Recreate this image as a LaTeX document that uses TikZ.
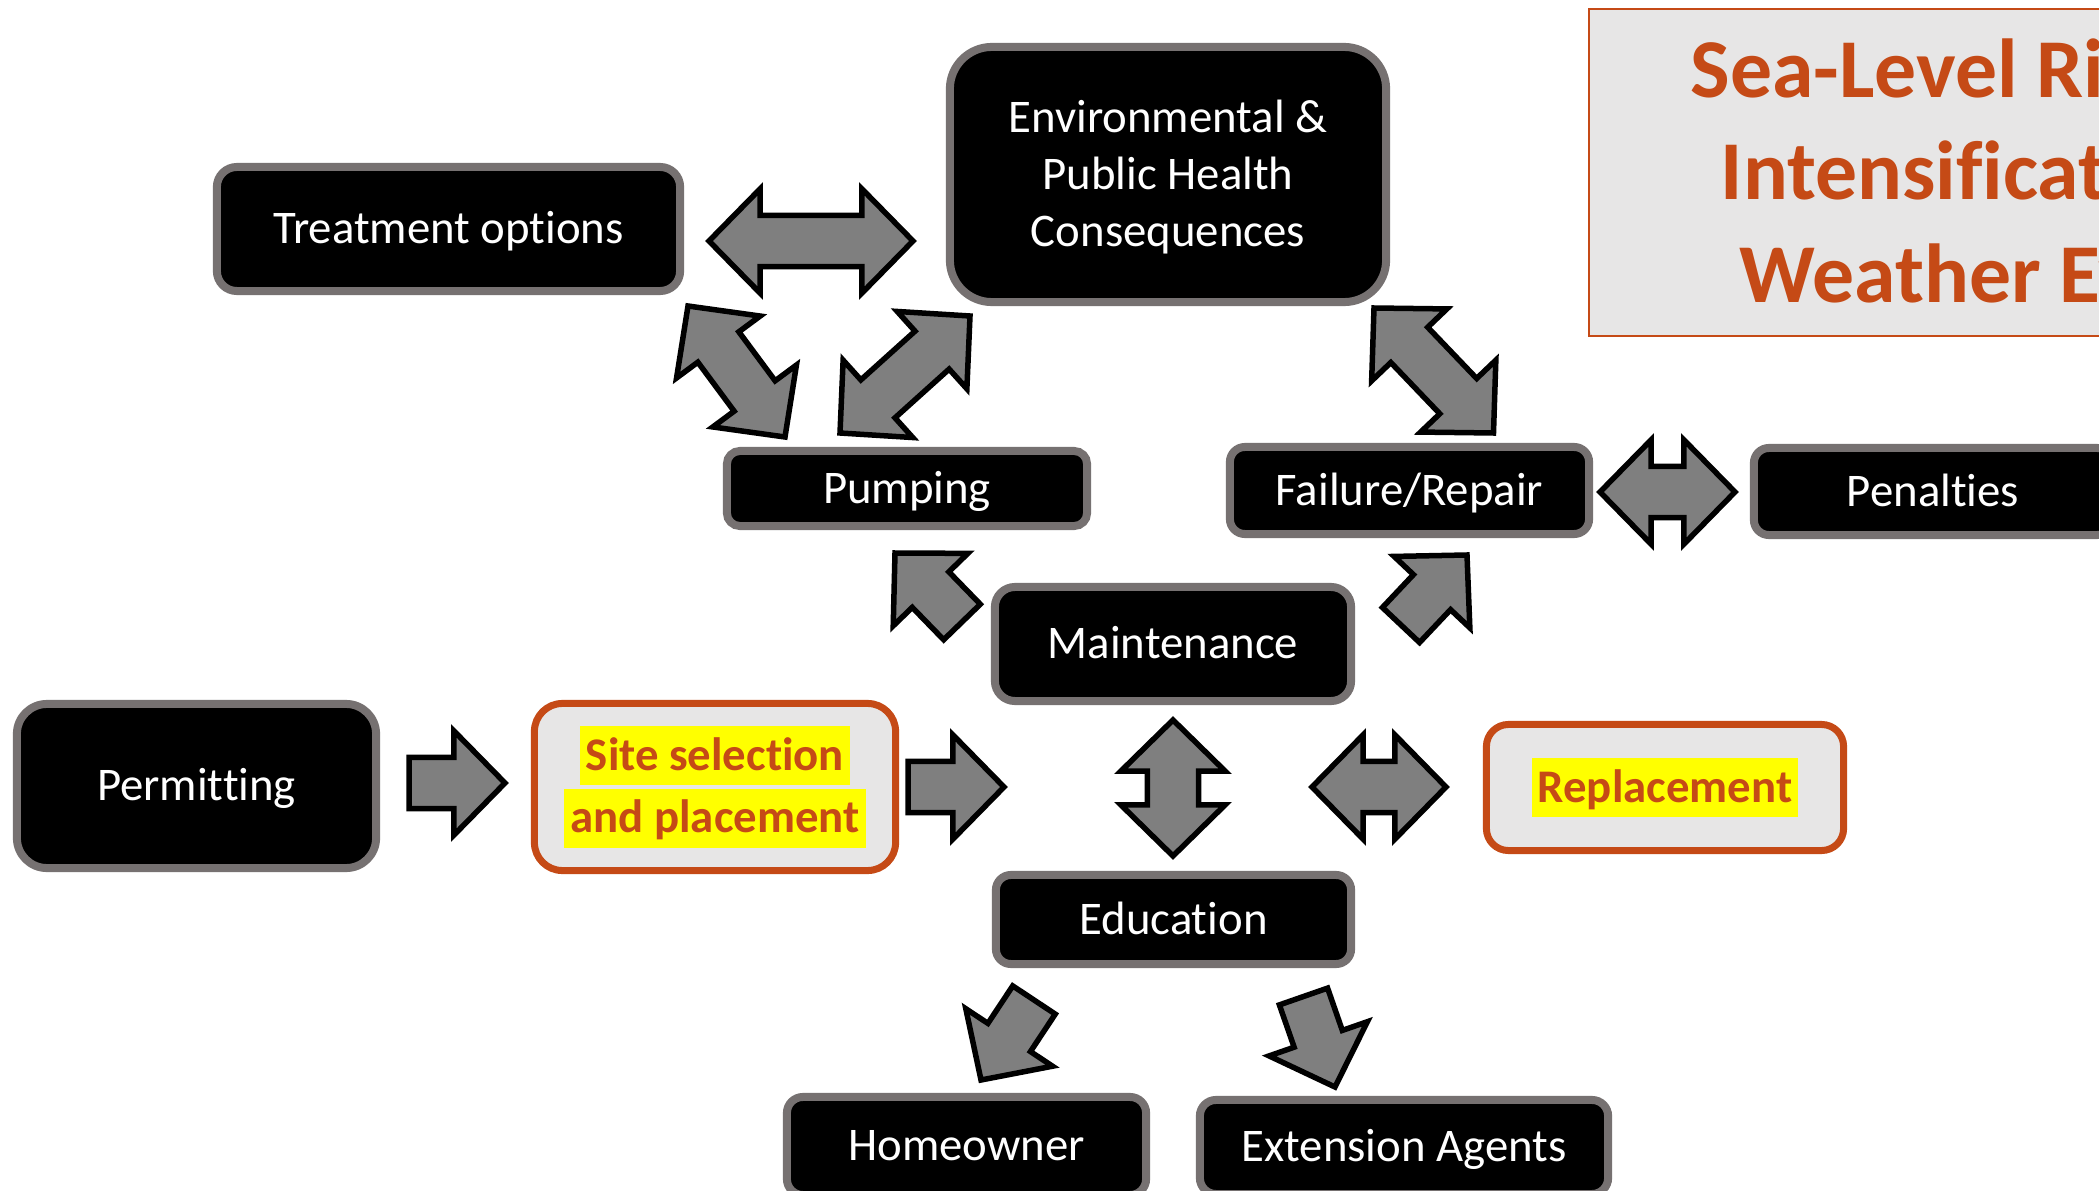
\documentclass[tikz,border=0pt]{standalone}
\usepackage{fontspec}
\setmainfont{Carlito}[RawFeature={-liga;-clig;-calt;-dlig}]
\usetikzlibrary{calc}
\definecolor{boxgrey}{RGB}{118,113,113}
\definecolor{arrgrey}{RGB}{127,127,127}
\definecolor{rust}{RGB}{197,74,22}
\definecolor{lightgrey}{RGB}{231,230,230}
\definecolor{hlyellow}{RGB}{255,255,0}
\newcommand{\bodyfont}{\fontsize{13.3}{16.2}\selectfont}
\newcommand{\hlfont}{\fontsize{13.3}{16.73}\selectfont\bfseries}
\newcommand{\ttlfont}{\fontsize{23.8}{29.2}\selectfont\bfseries}
\newcommand{\hlt}[1]{{\setlength{\fboxsep}{0pt}\colorbox{hlyellow}{\kern0.06cm\rule[-0.15cm]{0pt}{0.59cm}#1\kern0.06cm}}}
\newcommand{\arrHL}{0.51cm}
\newcommand{\arrHW}{0.52cm}
\newcommand{\arrSW}{0.255cm}
\newcommand{\singlearrow}[2]{%
  \coordinate (tmpc) at ($(#2)!\arrHL!(#1)$);
  \draw[blockarrow] ($(#1)!\arrSW!90:(#2)$) -- ($(tmpc)!\arrSW!-90:(#1)$) -- ($(tmpc)!\arrHW!-90:(#1)$) -- (#2)
    -- ($(tmpc)!\arrHW!90:(#1)$) -- ($(tmpc)!\arrSW!90:(#1)$) -- ($(#1)!\arrSW!-90:(#2)$) -- cycle;}
\newcommand{\doublearrow}[2]{%
  \coordinate (tmpa) at ($(#1)!\arrHL!(#2)$);
  \coordinate (tmpb) at ($(#2)!\arrHL!(#1)$);
  \draw[blockarrow] (#1) -- ($(tmpa)!\arrHW!90:(#2)$) -- ($(tmpa)!\arrSW!90:(#2)$) -- ($(tmpb)!\arrSW!-90:(#1)$)
    -- ($(tmpb)!\arrHW!-90:(#1)$) -- (#2) -- ($(tmpb)!\arrHW!90:(#1)$) -- ($(tmpb)!\arrSW!90:(#1)$)
    -- ($(tmpa)!\arrSW!-90:(#2)$) -- ($(tmpa)!\arrHW!-90:(#2)$) -- cycle;}
\tikzset{
  bbox/.style={draw=boxgrey, line width=0.08cm, fill=black, text=white, font=\bodyfont,
    inner sep=0pt, align=center, rounded corners=#1, text height=0.297cm, text depth=0cm},
  obox/.style={draw=rust, line width=0.07cm, fill=lightgrey, text=rust, font=\hlfont,
    inner sep=0pt, align=center, rounded corners=#1},
  blockarrow/.style={fill=arrgrey, draw=black, line width=0.055cm, line join=miter},
  titletext/.style={text=rust, font=\ttlfont, inner sep=0pt, anchor=base west},
}
\begin{document}
\begin{tikzpicture}[x=0.01cm, y=-0.01cm]
\useasboundingbox (0,0) rectangle (2099,1191);
\begin{scope}
\clip (0,0) rectangle (2099,1191);
\fill[white] (0,0) rectangle (2099,1191);

% title box
\node[draw=rust, line width=0.02cm, fill=lightgrey, minimum width=7.86cm, minimum height=3.27cm, inner sep=0pt] (titlebox) at (1982,172.5) {};
\node[titletext] (t1) at (1690,98) {Sea-Level Rise and};
\node[titletext] (t2) at (1720,200) {Intensification of};
\node[titletext] (t3) at (1739,303) {Weather Events};

% boxes
\node[bbox=0.2cm, minimum width=4.63cm, minimum height=1.24cm] (treat) at (448.5,229) {Treatment options};
\node[bbox=0.42cm, minimum width=4.36cm, minimum height=2.55cm, text height=1.437cm, text depth=0cm] (env) at (1168,174.5) {Environmental \&\\Public Health\\Consequences};
\node[bbox=0.13cm, minimum width=3.60cm, minimum height=0.75cm] (pump) at (907,488.5) {Pumping};
\node[bbox=0.15cm, minimum width=3.59cm, minimum height=0.87cm] (fail) at (1409.5,490.5) {Failure/Repair};
\node[bbox=0.15cm, minimum width=3.58cm, minimum height=0.87cm] (pen) at (1933,491.5) {Penalties};
\node[bbox=0.2cm, minimum width=3.56cm, minimum height=1.14cm] (maint) at (1173,644) {Maintenance};
\node[bbox=0.3cm, minimum width=3.59cm, minimum height=1.64cm] (permit) at (196.5,786) {Permitting};
\node[obox=0.28cm, minimum width=3.61cm, minimum height=1.67cm] (site) at (715,787) {\hlt{Site selection}\\\hlt{and placement}};
\node[obox=0.22cm, minimum width=3.57cm, minimum height=1.26cm] (repl) at (1665,787.5) {\hlt{Replacement}};
\node[bbox=0.15cm, minimum width=3.55cm, minimum height=0.89cm] (edu) at (1173.5,919.5) {Education};
\node[bbox=0.16cm, minimum width=3.59cm, minimum height=0.98cm] (home) at (966.5,1146) {Homeowner};
\node[bbox=0.16cm, minimum width=4.08cm, minimum height=0.94cm] (ext) at (1404,1147) {Extension Agents};

% arrow end points
\coordinate (a1s) at (409,783);   \coordinate (a1e) at (505,783);
\coordinate (a2s) at (908,787);   \coordinate (a2e) at (1004,787);
\coordinate (a3s) at (962,622);   \coordinate (a3e) at (895,553);
\coordinate (a4s) at (1401,625);  \coordinate (a4e) at (1467,555);
\coordinate (a5s) at (1034,1000); \coordinate (a5e) at (981,1080);
\coordinate (a6s) at (1303.5,996.5); \coordinate (a6e) at (1335,1087);
\coordinate (d1s) at (709,241);   \coordinate (d1e) at (913,241);
\coordinate (d2s) at (688,306);   \coordinate (d2e) at (785,437);
\coordinate (d3s) at (840,433);   \coordinate (d3e) at (970,316);
\coordinate (d4s) at (1374,308);  \coordinate (d4e) at (1493.5,433);
\coordinate (d5s) at (1600,492);  \coordinate (d5e) at (1735,492);
\coordinate (d6s) at (1173,720);  \coordinate (d6e) at (1173,856);
\coordinate (d7s) at (1312,787);  \coordinate (d7e) at (1446,787);

\singlearrow{a1s}{a1e}
\singlearrow{a2s}{a2e}
\singlearrow{a3s}{a3e}
\singlearrow{a4s}{a4e}
\singlearrow{a5s}{a5e}
\singlearrow{a6s}{a6e}
\doublearrow{d1s}{d1e}
\doublearrow{d2s}{d2e}
\doublearrow{d3s}{d3e}
\doublearrow{d4s}{d4e}
\doublearrow{d5s}{d5e}
\doublearrow{d6s}{d6e}
\doublearrow{d7s}{d7e}
\end{scope}
\end{tikzpicture}
\end{document}
